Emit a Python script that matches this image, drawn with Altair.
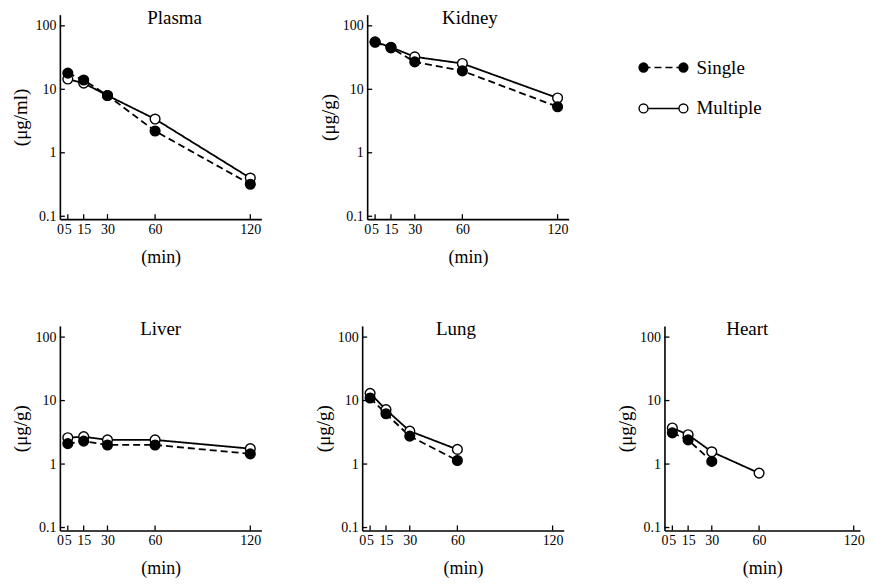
import altair as alt
import pandas as pd

# ---- data ----
times = [5, 15, 30, 60, 120]
x_tick_values = [0, 5, 15, 30, 60, 120]
x_tick_marks = [5, 15, 30, 60, 120]
y_tick_values = [0.1, 1, 10, 100]
series_names = ["Single", "Multiple"]

plasma_single = [18, 14, 8, 2.2, 0.32]
plasma_multiple = [14.5, 12.5, 8, 3.4, 0.4]
kidney_single = [55, 45, 27, 19.5, 5.3]
kidney_multiple = [56, 46, 32.5, 25.5, 7.3]
liver_single = [2.1, 2.3, 2.0, 2.0, 1.45]
liver_multiple = [2.6, 2.7, 2.4, 2.4, 1.75]
lung_single = [11, 6.2, 2.75, 1.14]
lung_multiple = [13, 7.2, 3.3, 1.7]
heart_single = [3.1, 2.4, 1.1]
heart_multiple = [3.7, 2.9, 1.56, 0.72]

FONT = "Liberation Serif"
H = 205

dash_scale = alt.Scale(domain=series_names, range=[[7, 4], [1, 0]])
fill_scale = alt.Scale(domain=series_names, range=["black", "white"])


def make_df(single, multiple):
    rows = []
    for t, v in zip(times, multiple):
        rows.append({"time": t, "value": v, "series": "Multiple"})
    for t, v in zip(times, single):
        rows.append({"time": t, "value": v, "series": "Single"})
    return pd.DataFrame(rows)


def panel(name, unit, single, multiple, width, xmax, title_dx):
    xscale = alt.Scale(domain=[0, xmax], nice=False, zero=False)
    yscale = alt.Scale(type="log", domain=[0.09, 150], nice=False)
    xaxis = alt.Axis(values=x_tick_values, title="(min)", tickSize=0, grid=False,
                     domainColor="black", domainWidth=1.6, labelFont=FONT,
                     labelFontSize=14, labelColor="black", labelPadding=3,
                     labelFlush=False, titleFont=FONT, titleFontSize=18,
                     titleFontWeight="normal", titleColor="black", titlePadding=12)
    yaxis = alt.Axis(values=y_tick_values, format="~g", title=unit, tickSize=0,
                     grid=False, domainColor="black", domainWidth=1.6,
                     labelFont=FONT, labelFontSize=14, labelColor="black",
                     labelPadding=4, labelFlush=False, titleFont=FONT,
                     titleFontSize=19, titleFontWeight="normal",
                     titleColor="black", titlePadding=4)
    df = make_df(single, multiple)
    x = alt.X("time:Q", scale=xscale, axis=xaxis)
    y = alt.Y("value:Q", scale=yscale, axis=yaxis)
    dash = alt.StrokeDash("series:N", scale=dash_scale, legend=None)
    fill = alt.Fill("series:N", scale=fill_scale, legend=None)
    lines = alt.Chart(df).mark_line(color="black", strokeWidth=1.8).encode(
        x=x, y=y, strokeDash=dash, detail="series:N")
    points = alt.Chart(df).mark_point(shape="circle", filled=True, size=95,
                                      stroke="black", strokeWidth=1.4,
                                      opacity=1).encode(x=x, y=y, fill=fill)
    xt = alt.Chart(pd.DataFrame({"time": x_tick_marks})).mark_rule(
        color="black", strokeWidth=1.3).encode(
        x=x, y=alt.value(H), y2=alt.value(H - 5))
    yt = alt.Chart(pd.DataFrame({"value": y_tick_values})).mark_rule(
        color="black", strokeWidth=1.3).encode(
        y=y, x=alt.value(0), x2=alt.value(5))
    return alt.layer(lines, points, xt, yt).properties(
        width=width, height=H,
        title=alt.TitleParams(name, anchor="middle", frame="group", offset=-13,
                              dx=title_dx, fontSize=19, font=FONT,
                              fontWeight="normal", color="black"))


plasma = panel("Plasma", "(μg/ml)", plasma_single, plasma_multiple, 202, 127, 14)
kidney = panel("Kidney", "(μg/g)", kidney_single, kidney_multiple, 202, 127, 2)
liver = panel("Liver", "(μg/g)", liver_single, liver_multiple, 202, 127, 0)
lung = panel("Lung", "(μg/g)", lung_single, lung_multiple, 202, 127, -7)
heart = panel("Heart", "(μg/g)", heart_single, heart_multiple, 196, 124, -15)

# ---- legend panel ----
leg_df = pd.DataFrame({"series": series_names})
ly = alt.Y("series:N", scale=alt.Scale(type="point", domain=series_names,
                                       range=[53, 94], padding=0), axis=None)
leg_dash = alt.StrokeDash("series:N", scale=dash_scale, legend=None)
leg_fill = alt.Fill("series:N", scale=fill_scale, legend=None)
leg_rule = alt.Chart(leg_df).mark_rule(color="black", strokeWidth=1.6).encode(
    x=alt.value(17), x2=alt.value(57), y=ly, strokeDash=leg_dash)
leg_p1 = alt.Chart(leg_df).mark_point(shape="circle", filled=True, size=80,
                                      stroke="black", strokeWidth=1.4,
                                      opacity=1).encode(x=alt.value(17), y=ly, fill=leg_fill)
leg_p2 = alt.Chart(leg_df).mark_point(shape="circle", filled=True, size=80,
                                      stroke="black", strokeWidth=1.4,
                                      opacity=1).encode(x=alt.value(57), y=ly, fill=leg_fill)
leg_text = alt.Chart(leg_df).mark_text(align="left", baseline="middle", font=FONT,
                                       fontSize=19, color="black").encode(
    x=alt.value(70), y=ly, text="series:N")
legend = alt.layer(leg_rule, leg_p1, leg_p2, leg_text).properties(width=150, height=H)

row1 = alt.hconcat(plasma, kidney, legend, spacing=58)
row2 = alt.hconcat(liver, lung, heart, spacing=53)
chart = alt.vconcat(row1, row2, spacing=54,
                    padding={"left": 4, "top": 0, "right": 0, "bottom": 0},
                    background="white").configure_view(stroke=None, strokeWidth=0)

chart.save("out.html", embed_options={"renderer": "svg", "actions": False})
